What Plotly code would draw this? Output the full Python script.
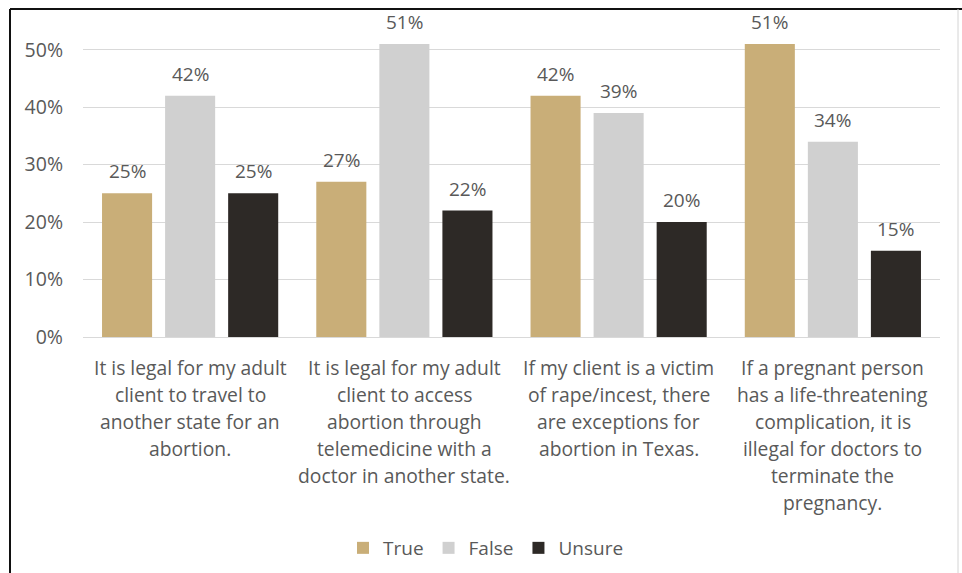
import plotly.graph_objects as go

# ---- data ----
categories = [
    "It is legal for my adult<br>client to travel to<br>another state for an<br>abortion.",
    "It is legal for my adult<br>client to access<br>abortion through<br>telemedicine with a<br>doctor in another state.",
    "If my client is a victim<br>of rape/incest, there<br>are exceptions for<br>abortion in Texas.",
    "If a pregnant person<br>has a life-threatening<br>complication, it is<br>illegal for doctors to<br>terminate the<br>pregnancy.",
]
series_names = ["True", "False", "Unsure"]
true_vals = [0.25, 0.27, 0.42, 0.51]
false_vals = [0.42, 0.51, 0.39, 0.34]
unsure_vals = [0.25, 0.22, 0.20, 0.15]
tick_vals = [0, 0.1, 0.2, 0.3, 0.4, 0.5]

# ---- style ----
W, H = 962, 573
# plot area in screen pixels
L, R, T, B = 83, 940, 21, 337
colors = ["#C9AE78", "#D0D0D0", "#2D2926"]
text_color = "#595959"
FONT = "Open Sans"

def px_x(px):
    return (px - L) / (R - L)

def px_y(py):
    return (B - py) / (B - T)

fig = go.Figure()
all_vals = [true_vals, false_vals, unsure_vals]
for name, vals, col in zip(series_names, all_vals, colors):
    fig.add_trace(go.Bar(name=name, x=categories, y=vals, marker_color=col,
                         marker_line_width=0))

# data labels
slot = (R - L) / len(categories) * (1 - 0.117) / 3
annotations = []
for i, vals in enumerate(all_vals):
    for c, v in zip(categories, vals):
        annotations.append(dict(x=c, y=v, xref="x", yref="y", text=f"{round(v*100)}%",
                                showarrow=False, xshift=(i - 1) * slot, yshift=22,
                                yanchor="middle",
                                font=dict(family=FONT, size=19, color=text_color)))

# category labels (one annotation per line)
for c in categories:
    for j, line in enumerate(c.split("<br>")):
        annotations.append(dict(x=c, y=0, xref="x", yref="paper", text=line,
                                showarrow=False, yanchor="middle", yshift=-(30 + 27 * j),
                                font=dict(family=FONT, size=19.3, color=text_color)))

shapes = [
    dict(type="line", xref="paper", yref="paper", x0=px_x(10), x1=px_x(962), y0=px_y(9), y1=px_y(9),
         line=dict(color="#111111", width=2)),
    dict(type="line", xref="paper", yref="paper", x0=px_x(10), x1=px_x(10), y0=px_y(9), y1=px_y(573),
         line=dict(color="#111111", width=2)),
    dict(type="line", xref="paper", yref="paper", x0=px_x(958), x1=px_x(958), y0=px_y(9), y1=px_y(573),
         line=dict(color="#D4D4D4", width=1)),
]

fig.update_layout(
    width=W, height=H,
    margin=dict(l=L, r=W - R, t=T, b=H - B, autoexpand=False),
    paper_bgcolor="white", plot_bgcolor="white",
    barmode="group", bargap=0.117, bargroupgap=0.206,
    font=dict(family=FONT, color=text_color),
    xaxis=dict(showticklabels=False, showgrid=False, showline=False, zeroline=False),
    yaxis=dict(range=[0, 0.55], tickvals=tick_vals, tickformat=".0%",
               showgrid=True, gridcolor="#D9D9D9", gridwidth=1, zeroline=True,
               zerolinecolor="#D9D9D9", zerolinewidth=1, ticklabelstandoff=19,
               tickfont=dict(family=FONT, size=19.5, color=text_color)),
    legend=dict(orientation="h", x=px_x(486), xanchor="center", y=px_y(548), yanchor="middle",
                font=dict(family=FONT, size=19, color=text_color), traceorder="normal"),
    annotations=annotations,
    shapes=shapes,
)

fig.write_html("out.html", config={"displayModeBar": False},
               post_script="document.body.style.margin='0px';document.body.style.overflow='hidden';")
